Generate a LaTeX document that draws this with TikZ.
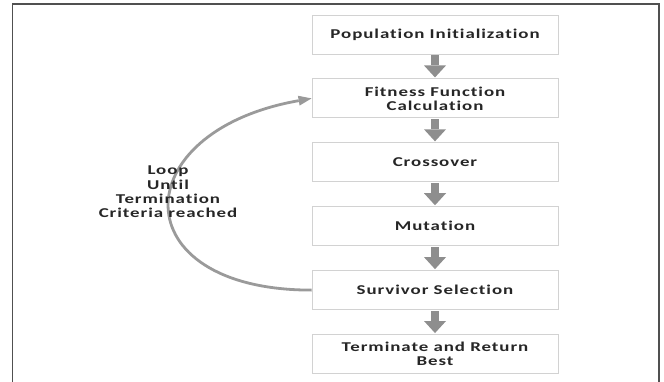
\documentclass[tikz,border=0pt]{standalone}
\usepackage{fontspec}
\newfontfamily\stagefont{Carlito}[FakeStretch=1.4,LetterSpace=7,Ligatures={NoCommon,NoRare}]
\usepackage{xcolor}
\definecolor{framecol}{HTML}{505050}
\definecolor{boxline}{HTML}{D2D2D2}
\definecolor{stepcol}{HTML}{8E8E8E}
\definecolor{loopcol}{HTML}{9A9A9A}
\definecolor{textcol}{HTML}{262626}
\usepackage{tikz}
\usetikzlibrary{positioning,arrows.meta}

\begin{document}
\begin{tikzpicture}[x=1pt,y=-1pt,
    stagebox/.style={draw=boxline,line width=0.9pt,minimum width=246pt,
        minimum height=39pt,inner sep=0pt,align=center,text=textcol,
        font=\stagefont\bfseries\fontsize{13.5}{14}\selectfont},
    steparrow/.style={draw=stepcol,line width=8pt,shorten <=1pt,shorten >=1pt,
        -{Triangle[width=22pt,length=12pt,line width=0pt]}},
    looparrow/.style={draw=loopcol,line width=2.8pt,
        -{Triangle[width=10pt,length=13pt,line width=0pt]}},
    looplabel/.style={align=center,text=textcol,inner sep=0pt,
        font=\stagefont\bfseries\fontsize{13.5}{14.3}\selectfont}]
  \useasboundingbox (0,0) rectangle (664,382);
  % ---------- outer frame (open at the bottom) --------------------
  \draw[framecol,line width=1.2pt] (12.5,382) |- (659,4) -- (659,382);
  % ---------- stages of the algorithm -----------------------------
  \node[stagebox] (init) at (435,34.5) {Population Initialization};
  \node[stagebox,below=24pt of init] (fitness) {Fitness Function\\Calculation};
  \node[stagebox,below=24pt of fitness] (cross) {Crossover};
  \node[stagebox,below=24pt of cross] (mutate) {Mutation};
  \node[stagebox,below=24pt of mutate] (select) {Survivor Selection};
  \node[stagebox,below=24pt of select] (finish) {Terminate and Return\\Best};
  \foreach \a/\b in {init/fitness,fitness/cross,cross/mutate,mutate/select,select/finish}
    \draw[steparrow] (\a.south) -- (\b.north);
  % ---------- loop back to fitness --------------------------------
  \draw[looparrow] (select.west) to[out=180,in=190,looseness=2.55] (fitness.west);
  \node[looplabel] (looptxt) at (168,192)
      {Loop\\Until\\Termination\\Criteria reached};
\end{tikzpicture}
\end{document}
